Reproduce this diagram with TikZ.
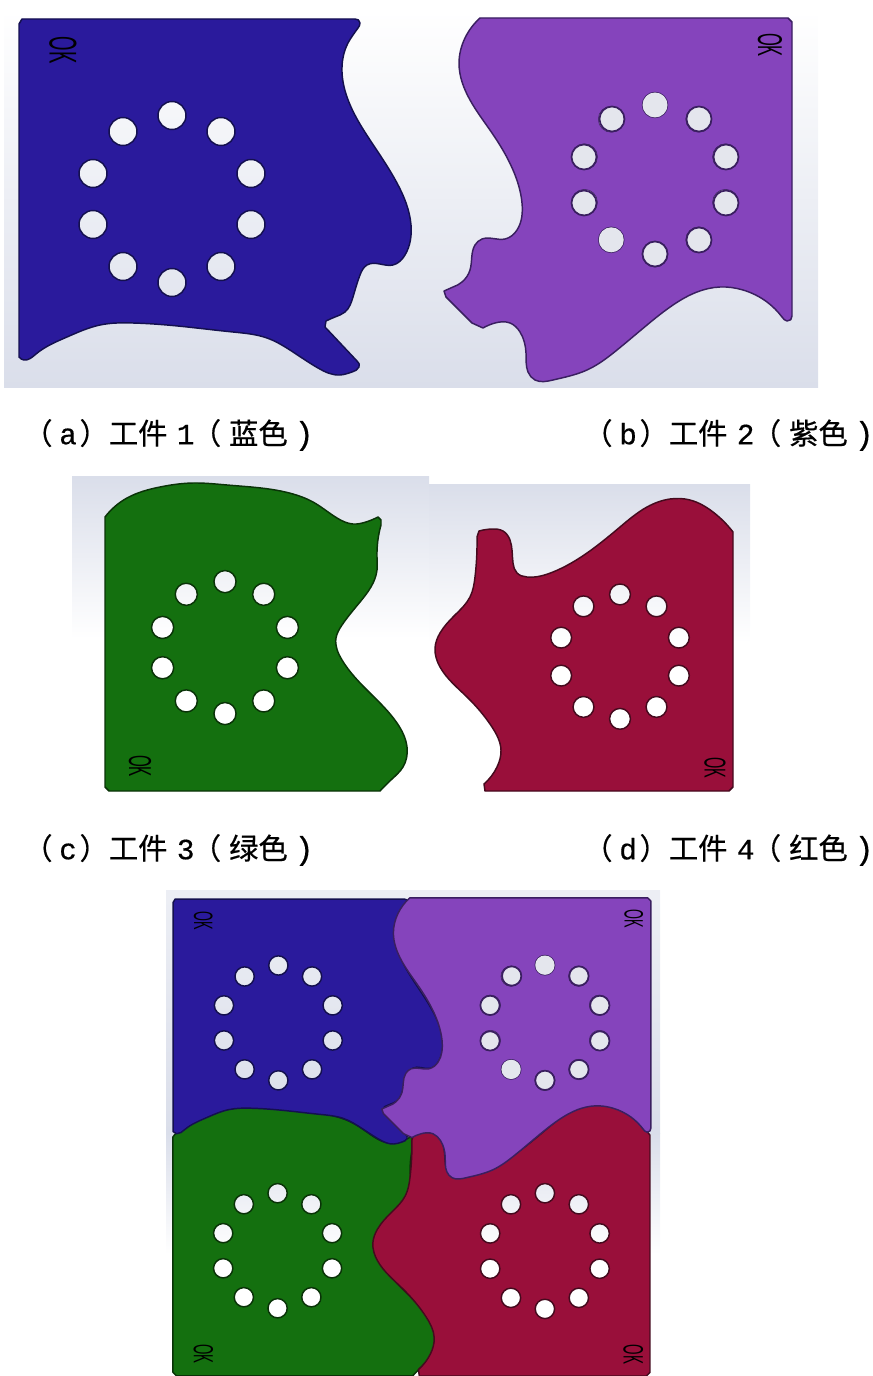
\documentclass[tikz,border=0pt]{standalone}
\usepackage{fontspec}
\usetikzlibrary{hobby}
\setmainfont{Liberation Sans}
\newfontfamily\cjkfont[FakeBold=0.5]{Noto Sans CJK SC}
\newfontfamily\monofont[FakeBold=0.5]{Liberation Mono}

\definecolor{blueface}{HTML}{2A1A9C}
\definecolor{blueedge}{HTML}{14104F}
\definecolor{purpleface}{HTML}{8544BC}
\definecolor{purpleedge}{HTML}{3A1F60}
\definecolor{greenface}{HTML}{14700F}
\definecolor{greenedge}{HTML}{0A3308}
\definecolor{redface}{HTML}{990F3A}
\definecolor{rededge}{HTML}{450A1E}
\definecolor{bggrey}{HTML}{DADEEA}
\definecolor{holegrey}{HTML}{E4E6ED}

\tikzset{
  workpart/.style={use Hobby shortcut, even odd rule, line width=1.1pt, line join=round},
  workblue/.style={workpart, fill=blueface, draw=blueedge},
  workpurple/.style={workpart, fill=purpleface, draw=purpleedge},
  workgreen/.style={workpart, fill=greenface, draw=greenedge},
  workred/.style={workpart, fill=redface, draw=rededge},
  holeedge/.style={draw=purpleedge, line width=1.3pt},
  oktext/.style={transform shape, rotate=-90, inner sep=0pt, text=black,
    font=\fontsize{29}{29}\selectfont},
  captext/.style={anchor=west, inner sep=0pt, font=\fontsize{22}{22}\selectfont},
}

% Outlines
\newcommand{\blueoutline}{(19,357) -- (19,24) -- (22,19) -- (355,19)
  .. (360,23) .. (358,28) .. (348,43) .. (342,72) .. (347,97) .. (372,143) .. (397,183) .. (411,225) .. (405,255) .. (393,265) .. (367,265) .. (360,275) .. (353,297) .. (345,312) .. (335,317) .. (326,321)
  -- (325,327) -- (357,361)
  .. (359,367) .. (352,372) .. (340,375) .. (318,368) .. (293,352) .. (267,338) .. (233,332) .. (167,325) .. (133,323) .. (100,325) .. (67,337) .. (36,354) .. (24,360) .. (19,357) -- cycle}
\newcommand{\purpleoutline}{(480,18) -- (788,18) -- (792,22) -- (792,316)
  .. (787,321) .. (782,317) .. (767,302) .. (743,290) .. (720,287) .. (697,292) .. (673,305) .. (647,325) .. (617,350) .. (587,370) .. (553,380) .. (535,380) .. (528,372) .. (526,353) .. (520,332) .. (510,323) .. (495,323) .. (483,328)
  -- (472,323) -- (446,297) -- (444,291)
  -- (453,287) .. (462,282) .. (470,270) .. (475,245) .. (482,239) .. (505,239) .. (517,230) .. (522,203) .. (513,170) .. (492,133) .. (470,100) .. (459,63) .. (465,38) .. (480,18) -- cycle}
\newcommand{\greenoutline}{(105,787) -- (105,517)
  .. (127,498) .. (160,487) .. (193,483) .. (227,485) .. (293,494) .. (313,502) .. (337,518) .. (353,524) .. (366,522) .. (378,517)
  -- (381,520) -- (381,525)
  .. (377,557) .. (377,570) .. (360,602) .. (342,625) .. (336,638) .. (342,660) .. (370,693) .. (397,723) .. (407,747) .. (403,767) .. (392,779) .. (380,791)
  -- (109,791) -- cycle}
\newcommand{\redoutline}{(733,532)
  .. (713,512) .. (690,500) .. (670,499) .. (647,507) .. (620,527) .. (587,553) .. (553,572) .. (527,577) .. (517,573) .. (513,563) .. (510,540) .. (503,531) .. (492,529) .. (479,531)
  -- (477,537)
  .. (475,577) .. (470,597) .. (455,615) .. (440,633) .. (435,648) .. (440,667) .. (467,697) .. (492,727) .. (501,750) .. (497,767) .. (484,784)
  -- (485,791) -- (729,791) -- (733,787) -- cycle}

% Ring of ten holes
\newcommand{\holering}[3]{\foreach \hx/\hy in {0/-84,-49/-68,49/-68,-79/-26,79/-26,-79/25,79/25,-49/67,49/67,0/83}
  { ({#1+#3*\hx},{#2+#3*\hy}) circle[radius=#3*14] }}

% Parts
\newcommand{\bluepart}[1]{
  \path[workblue] \blueoutline \holering{172}{199.5}{1};
  \node[oktext] (#1ok) at (63,50) {\scalebox{.48}[1]{OK}};
}
\newcommand{\purplepart}[1]{
  \path[workpurple] \purpleoutline \holering{655}{180}{.893};
  \fill[holegrey] \holering{655}{180}{.893};
  \foreach \hx/\hy in {612/119,699/119,584/157,726/157,584/203,726/203,699/240,655/254}
    \draw[holeedge] (\hx,\hy) circle[radius=12.5];
  \node[oktext, scale=.89] (#1ok) at (770,45) {\scalebox{.48}[1]{OK}};
}
\newcommand{\greenpart}[1]{
  \path[workgreen] \greenoutline \holering{225}{648}{.79};
  \node[oktext, scale=.82] (#1ok) at (140,766) {\scalebox{.48}[1]{OK}};
}
\newcommand{\redpart}[1]{
  \path[workred] \redoutline \holering{620}{657}{.745};
  \node[oktext, scale=.78] (#1ok) at (715,768) {\scalebox{.48}[1]{OK}};
}
\newcommand{\captline}[3]{{\cjkfont （}\kern5pt{\monofont #1}\kern2pt{\cjkfont ）工件}\kern7pt{\monofont #2}\kern-2pt{\cjkfont （}\kern6pt{\cjkfont #3}\kern5pt{\fontsize{24}{24}\selectfont\monofont )}}

\begin{document}
\begin{tikzpicture}[x=0.75pt,y=-0.75pt]
\useasboundingbox (0,0) rectangle (872,1376);

% Backgrounds
\shade[top color=white, bottom color=bggrey] (4,10) rectangle (420,387);
\shade[top color=white, bottom color=bggrey] (420,10) rectangle (818,387);
\shade[top color=bggrey, bottom color=white, middle color=white] (72,476) rectangle (429,801);
\shade[top color=bggrey, bottom color=white, middle color=white] (429,484) rectangle (750,801);
\shade[top color=white!50!bggrey, bottom color=bggrey] (166,890) rectangle (660,1133);
\shade[top color=bggrey, bottom color=white, middle color=white] (166,1133) rectangle (660,1376);

% Single parts
\bluepart{a}
\purplepart{b}
\greenpart{c}
\redpart{d}

% Captions
\node[captext] (capa) at (23,435) {\captline{a}{1}{蓝色}};
\node[captext] (capb) at (583,435) {\captline{b}{2}{紫色}};
\node[captext] (capc) at (23,850) {\captline{c}{3}{绿色}};
\node[captext] (capd) at (583,850) {\captline{d}{4}{红色}};

% Assembled parts
\begin{scope}[shift={(81.4,686)}, scale=.872]
  \greenpart{e}
\end{scope}
\begin{scope}[shift={(-31.7,640.4)}, scale=.93]
  \redpart{f}
\end{scope}
\begin{scope}[shift={(160,886)}, scale=.688]
  \bluepart{g}
\end{scope}
\begin{scope}[shift={(38.6,884)}, scale=.773]
  \purplepart{h}
\end{scope}
\end{tikzpicture}
\end{document}
